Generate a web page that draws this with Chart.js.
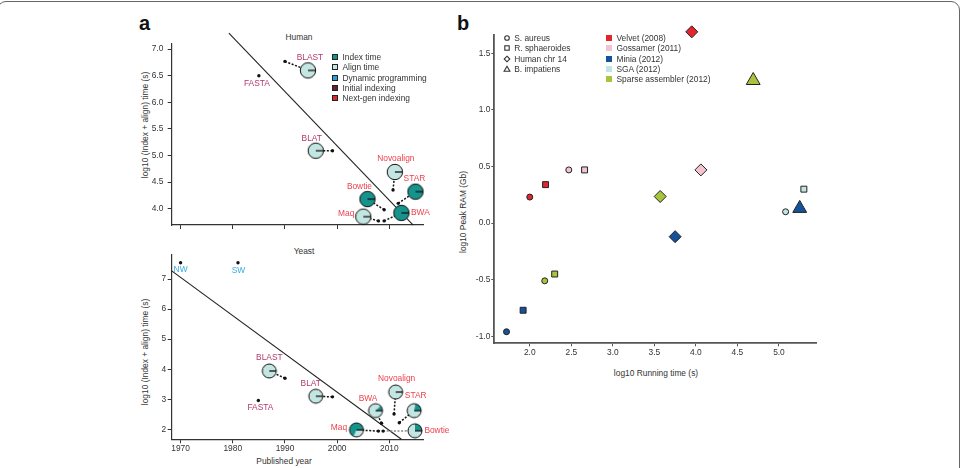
<!DOCTYPE html>
<html>
<head>
<meta charset="utf-8">
<script src="https://cdn.jsdelivr.net/npm/chart.js@4.4.1/dist/chart.umd.min.js"></script>
<style>
  body { margin: 0; background: #fff; }
  #page { position: relative; width: 963px; height: 468px; overflow: hidden;
          font-family: "Liberation Sans", Arial, sans-serif; color: #333; }
  .frame { position: absolute; left: -3px; top: 1px; width: 963px; height: 520px;
           box-sizing: border-box; border: 1.6px solid #666; border-radius: 9px; }
  .box { position: absolute; }
  .txt { position: absolute; font-size: 8.4px; line-height: 1; white-space: nowrap;
         transform: translate(-50%, -50%); }
  .ytitle { transform: translate(-50%, -50%) rotate(-90deg); }
  .panel { position: absolute; font-size: 20px; font-weight: bold; line-height: 1; color: #111; }
  .row { position: absolute; font-size: 8.4px; line-height: 1; white-space: nowrap; }
</style>
</head>
<body>
<div id="page">
  <div class="frame"></div>

  <div class="panel" style="left:139px; top:13px;">a</div>
  <div class="panel" style="left:457px; top:13px;">b</div>

  <div class="txt" style="left:299px; top:37px;">Human</div>
  <div class="txt" style="left:304px; top:251px;">Yeast</div>
  <div class="txt ytitle" style="left:145px; top:125px;">log10 (Index + align) time (s)</div>
  <div class="txt ytitle" style="left:145px; top:352px;">log10 (Index + align) time (s)</div>
  <div class="txt" style="left:284px; top:461px;">Published year</div>
  <div class="txt ytitle" style="left:463px; top:212px;">log10 Peak RAM (Gb)</div>
  <div class="txt" style="left:656px; top:373px;">log10 Running time (s)</div>

  <div class="box" style="left:150px; top:20px; width:310px; height:215px;"><canvas id="human"></canvas></div>
  <div class="box" style="left:150px; top:245px; width:310px; height:225px;"><canvas id="yeast"></canvas></div>
  <div class="box" style="left:470px; top:20px; width:355px; height:345px;"><canvas id="ram"></canvas></div>

  <div id="legends"></div>
</div>

<script>
// ---------- panel a: published year vs log10 time ----------
const yearTicks = [1970, 1980, 1990, 2000, 2010];
const humanTimeTicks = [4.0, 4.5, 5.0, 5.5, 6.0, 6.5, 7.0];
const yeastTimeTicks = [2, 3, 4, 5, 6, 7];

// human
const humanTools = ['FASTA', 'BLAST', 'BLAT', 'Novoalign', 'STAR', 'Bowtie', 'Maq', 'BWA'];
const humanKind = ['initial', 'initial', 'initial', 'nextgen', 'nextgen', 'nextgen', 'nextgen', 'nextgen'];
const humanDotYear = [1985.0, 1990.0, 1999.1, 2010.7, 2011.7, 2009.0, 2007.9, 2009.0];
const humanDotTime = [6.50, 6.77, 5.09, 4.35, 4.10, 3.98, 3.77, 3.77];
const humanPieYear = [null, 1994.4, 1995.9, 2011.05, 2015.0, 2005.8, 2005.0, 2012.3];
const humanPieTime = [null, 6.60, 5.09, 4.69, 4.32, 4.18, 3.85, 3.92];
const humanIndexShare = [null, 0, 0, 0, 1, 1, 0, 1];
const humanFitYear = [1979.25, 2014.56];
const humanFitTime = [7.30, 3.69];

// yeast
const yeastTools = ['NW', 'SW', 'FASTA', 'BLAST', 'BLAT', 'Novoalign', 'BWA', 'STAR', 'Bowtie', 'Maq'];
const yeastKind = ['dp', 'dp', 'initial', 'initial', 'initial', 'nextgen', 'nextgen', 'nextgen', 'nextgen', 'nextgen'];
const yeastDotYear = [1970.0, 1981.0, 1984.9, 1990.0, 1999.1, 2010.9, 2008.5, 2011.9, 2008.8, 2007.9];
const yeastDotTime = [7.54, 7.54, 2.96, 3.70, 3.08, 2.51, 2.20, 2.22, 1.94, 1.94];
const yeastPieYear = [null, null, null, 1987.0, 1995.9, 2011.2, 2007.35, 2014.75, 2014.9, 2003.7];
const yeastPieTime = [null, null, null, 3.94, 3.10, 3.24, 2.62, 2.62, 1.95, 1.98];
const yeastIndexShare = [null, null, null, 0, 0, 0, 0.12, 0.22, 0.25, 0.68];
const yeastFitYear = [1968.3, 2012.3];
const yeastFitTime = [7.27, 1.667];

// ---------- panel b: running time vs peak RAM ----------
const genomes = ['S. aureus', 'R. sphaeroides', 'Human chr 14', 'B. impatiens'];
const assemblers = ['Velvet (2008)', 'Gossamer (2011)', 'Minia (2012)', 'SGA (2012)', 'Sparse assembler (2012)'];
const velvetTime = [2.00, 2.19, 3.95, null];
const velvetRam = [0.23, 0.34, 1.69, null];
const gossamerTime = [2.47, 2.66, 4.06, null];
const gossamerRam = [0.47, 0.47, 0.47, null];
const miniaTime = [1.72, 1.92, 3.75, 5.25];
const miniaRam = [-0.96, -0.77, -0.12, 0.13];
const sgaTime = [5.08, 5.30, null, null];
const sgaRam = [0.10, 0.30, null, null];
const sparseTime = [2.18, 2.30, 3.57, 4.69];
const sparseRam = [-0.51, -0.45, 0.235, 1.26];
const runTicks = [2.0, 2.5, 3.0, 3.5, 4.0, 4.5, 5.0];
const ramTicks = [-1.0, -0.5, 0.0, 0.5, 1.0, 1.5];

// ---------- styles ----------
const FONT = '"Liberation Sans", Arial, sans-serif';
const INDEX_COL = '#17938e';
const ALIGN_COL = '#c4e6e2';
const textColor = { dp: '#34ace3', initial: '#b3376a', nextgen: '#ee3f4c' };
const assemblerColors = ['#e3262e', '#f3c4cf', '#15529a', '#c2e5df', '#a8c43b'];
const genomeStyles = ['circle', 'rect', 'rectRot', 'triangle'];
const genomeRadius = [3, 4.2, 6, 8];

// label offsets (px) from the pie, or from the dot when there is no pie
const humanLabelOffset = [[-2, 8], [2, -13], [-4, -12.5], [1, -13], [-1, -13], [-8, -12.5], [-17, -2.5], [19, 0]];
const yeastLabelOffset = [[0, 7], [0.5, 7.5], [2, 7], [0, -13.5], [-5, -12.5], [1, -13.5], [-7.5, -12], [1.5, -14.5], [22, 0], [-17.5, -2]];
const yeastLinkColor = { Bowtie: '#888' };

function pieImage(share, r) {
  const c = document.createElement('canvas');
  const s = Math.ceil(2 * r + 4);
  c.width = s; c.height = s;
  const g = c.getContext('2d');
  const cx = s / 2, cy = s / 2;
  g.fillStyle = ALIGN_COL;
  g.beginPath(); g.arc(cx, cy, r, 0, Math.PI * 2); g.fill();
  if (share > 0) {
    g.fillStyle = INDEX_COL;
    g.beginPath(); g.moveTo(cx, cy);
    if (share >= 1) g.arc(cx, cy, r, 0, Math.PI * 2);
    else g.arc(cx, cy, r, 0, -share * Math.PI * 2, true);
    g.closePath(); g.fill();
  }
  g.strokeStyle = '#111'; g.lineWidth = 1;
  g.beginPath(); g.arc(cx, cy, r, 0, Math.PI * 2); g.stroke();
  g.lineWidth = 1.3;
  g.beginPath(); g.moveTo(cx, cy); g.lineTo(cx + r, cy); g.stroke();
  return c;
}

function labelPlugin(items) {
  return {
    id: 'pointLabels',
    afterDatasetsDraw(chart) {
      const { ctx, scales: { x, y } } = chart;
      ctx.save();
      ctx.font = '8.4px ' + FONT;
      ctx.textAlign = 'center';
      ctx.textBaseline = 'middle';
      items.forEach(it => {
        ctx.fillStyle = it.color;
        ctx.fillText(it.text, x.getPixelForValue(it.x) + it.dx, y.getPixelForValue(it.y) + it.dy);
      });
      ctx.restore();
    }
  };
}

function axis(opts) {
  return {
    type: 'linear',
    min: opts.min,
    max: opts.max,
    afterBuildTicks: s => { s.ticks = opts.ticks.map(v => ({ value: v })); },
    afterFit: s => { if (opts.width != null) s.width = opts.width; if (opts.height != null) s.height = opts.height; },
    ticks: {
      autoSkip: false, maxRotation: 0,
      padding: opts.pad,
      color: opts.hideLabels ? 'rgba(0,0,0,0)' : '#333',
      font: { family: FONT, size: 8.4 },
      callback: opts.fmt
    },
    grid: { drawOnChartArea: false, drawTicks: true, tickLength: opts.tick, color: opts.color, lineWidth: 1 },
    border: { display: true, color: opts.color, width: opts.bw }
  };
}

function toolChart(id, d, st) {
  const datasets = [];
  const piePts = [], pieImgs = [], items = [];
  d.tools.forEach((name, i) => {
    const hasPie = d.pieYear[i] != null;
    if (hasPie) {
      piePts.push({ x: d.pieYear[i], y: d.pieTime[i] });
      pieImgs.push(pieImage(d.share[i], st.pieR));
      datasets.push({
        data: [{ x: d.dotYear[i], y: d.dotTime[i] }, { x: d.pieYear[i], y: d.pieTime[i] }],
        showLine: true, borderColor: (st.linkColor || {})[name] || '#111',
        borderDash: [2, 1.6], borderWidth: 1.5, pointRadius: 0, order: 2, clip: false
      });
    }
    items.push({
      text: name, color: textColor[d.kind[i]],
      x: hasPie ? d.pieYear[i] : d.dotYear[i], y: hasPie ? d.pieTime[i] : d.dotTime[i],
      dx: st.offsets[i][0], dy: st.offsets[i][1]
    });
  });
  datasets.push({ data: piePts, pointStyle: pieImgs, order: 0, clip: false });
  datasets.push({
    data: d.tools.map((n, i) => ({ x: d.dotYear[i], y: d.dotTime[i] })),
    pointRadius: 1.7, pointBackgroundColor: '#111', pointBorderWidth: 0, order: 1, clip: false
  });
  datasets.push({
    data: d.fitYear.map((v, i) => ({ x: v, y: d.fitTime[i] })),
    showLine: true, borderColor: '#222', borderWidth: 1.1, pointRadius: 0, order: 3, clip: false
  });

  return new Chart(document.getElementById(id), {
    type: 'scatter',
    data: { datasets },
    options: {
      responsive: true, maintainAspectRatio: false, animation: false, events: [],
      layout: { padding: { left: 0, right: st.padRight, top: st.padTop, bottom: 0 } },
      plugins: { legend: { display: false }, tooltip: { enabled: false } },
      scales: {
        x: axis({ min: 1968.3, max: 2016.5, ticks: yearTicks, height: st.xh, pad: 0, tick: 4,
                  color: '#333', bw: 1.2, hideLabels: st.hideX, fmt: v => String(v) }),
        y: axis({ min: st.ymin, max: st.ymax, ticks: st.yTicks, width: st.yw, pad: st.ypad, tick: 4,
                  color: '#333', bw: 1.2, fmt: st.yfmt })
      }
    },
    plugins: [labelPlugin(items)]
  });
}

toolChart('human', {
  tools: humanTools, kind: humanKind, dotYear: humanDotYear, dotTime: humanDotTime,
  pieYear: humanPieYear, pieTime: humanPieTime, share: humanIndexShare,
  fitYear: humanFitYear, fitTime: humanFitTime
}, {
  pieR: 7.7, offsets: humanLabelOffset, padRight: 36.7, padTop: 23.3, xh: 10, yw: 21.7, ypad: 4.4,
  ymin: 3.693, ymax: 7.11, yTicks: humanTimeTicks, yfmt: v => v.toFixed(1), hideX: true
});

toolChart('yeast', {
  tools: yeastTools, kind: yeastKind, dotYear: yeastDotYear, dotTime: yeastDotTime,
  pieYear: yeastPieYear, pieTime: yeastPieTime, share: yeastIndexShare,
  fitYear: yeastFitYear, fitTime: yeastFitTime
}, {
  pieR: 7, offsets: yeastLabelOffset, linkColor: yeastLinkColor, padRight: 36.7, padTop: 10,
  xh: 30.7, yw: 21.7, ypad: 1.5, ymin: 1.667, ymax: 7.8, yTicks: yeastTimeTicks,
  yfmt: v => String(v), hideX: false
});

// panel b
const ramSeries = [
  [velvetTime, velvetRam], [gossamerTime, gossamerRam], [miniaTime, miniaRam],
  [sgaTime, sgaRam], [sparseTime, sparseRam]
];
const ramDatasets = ramSeries.map(([xs, ys], a) => {
  const pts = [], styles = [], radii = [];
  xs.forEach((v, g) => {
    if (v == null) return;
    pts.push({ x: v, y: ys[g] });
    styles.push(genomeStyles[g]);
    radii.push(genomeRadius[g]);
  });
  return {
    label: assemblers[a], data: pts, pointStyle: styles, pointRadius: radii,
    pointBackgroundColor: assemblerColors[a], pointBorderColor: '#222', pointBorderWidth: 1, clip: false
  };
});

new Chart(document.getElementById('ram'), {
  type: 'scatter',
  data: { datasets: ramDatasets },
  options: {
    responsive: true, maintainAspectRatio: false, animation: false, events: [],
    layout: { padding: { left: 0, right: 6.7, top: 15, bottom: 0 } },
    plugins: { legend: { display: false }, tooltip: { enabled: false } },
    scales: {
      x: axis({ min: 1.573, max: 5.446, ticks: runTicks, height: 21.7, pad: 1, tick: 3,
                color: '#555', bw: 1.8, fmt: v => v.toFixed(1) }),
      y: axis({ min: -1.062, max: 1.662, ticks: ramTicks, width: 24.3, pad: 1, tick: 3,
                color: '#555', bw: 1.8, fmt: v => v.toFixed(1) })
    }
  }
});

// ---------- legends (html) ----------
const legendBox = document.getElementById('legends');
function addRow(x, y, swatch, text) {
  const sw = document.createElement('div');
  sw.style.cssText = `position:absolute;left:${x}px;top:${y}px;`;
  sw.innerHTML = swatch;
  legendBox.appendChild(sw);
  const t = document.createElement('div');
  t.className = 'row';
  t.style.cssText = `left:${x + 7.5}px;top:${y}px;transform:translateY(-50%);`;
  t.textContent = text;
  legendBox.appendChild(t);
}
function square(color, border) {
  return `<div style="position:absolute;left:-3px;top:-3px;width:6px;height:6px;box-sizing:border-box;background:${color};border:${border ? '0.9px solid #222' : 'none'}"></div>`;
}
function shape(kind) {
  const shapes = {
    circle: '<circle cx="4" cy="4" r="2.3"/>',
    rect: '<rect x="1.8" y="1.8" width="4.4" height="4.4"/>',
    rectRot: '<polygon points="4,1.2 6.8,4 4,6.8 1.2,4"/>',
    triangle: '<polygon points="4,1.3 6.9,6.3 1.1,6.3"/>'
  };
  return `<svg width="8" height="8" viewBox="0 0 8 8" style="position:absolute;left:-4px;top:-4px" fill="#fff" stroke="#333" stroke-width="1.1">${shapes[kind]}</svg>`;
}

const humanLegend = ['Index time', 'Align time', 'Dynamic programming', 'Initial indexing', 'Next-gen indexing'];
const humanLegendColors = [INDEX_COL, ALIGN_COL, '#2a9fd8', '#6b1f3d', '#e0262f'];
humanLegend.forEach((lab, i) => addRow(335, 57.3 + i * 10.1, square(humanLegendColors[i], true), lab));

genomes.forEach((g, i) => addRow(506.7, 38 + i * 10.3, shape(genomeStyles[i]), g));
assemblers.forEach((a, i) => addRow(609, 38 + i * 10.3, square(assemblerColors[i], false), a));
</script>
</body>
</html>
